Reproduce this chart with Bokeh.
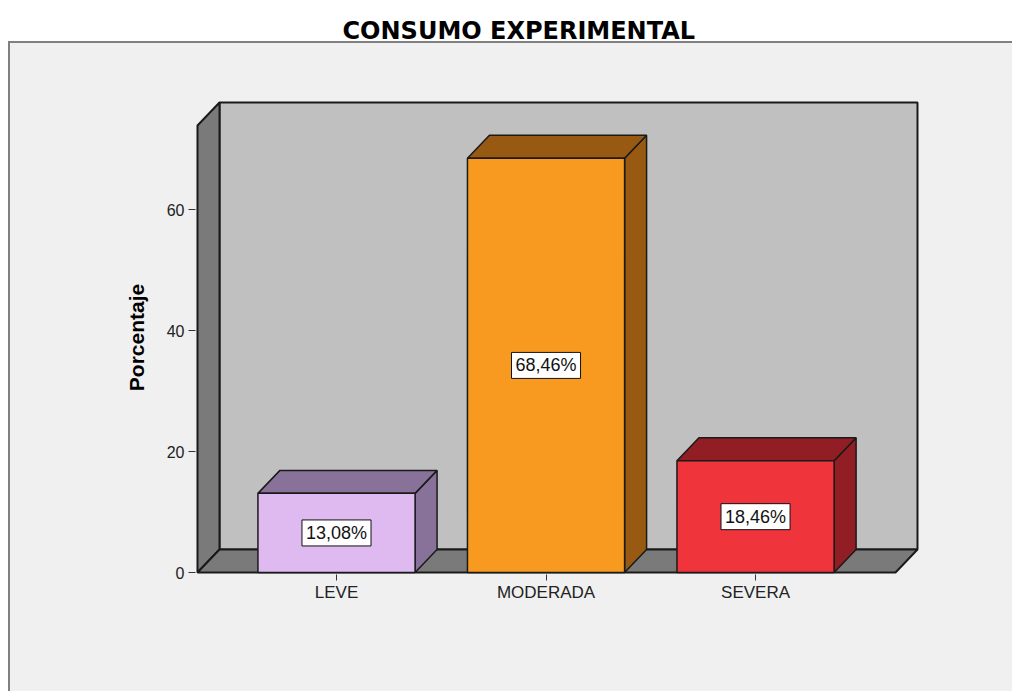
from bokeh.plotting import figure
from bokeh.models import FixedTicker, Range1d, Title
from bokeh.embed import file_html
from bokeh.resources import INLINE
from bokeh.core.properties import value

# ---- data ----
categories = ["LEVE", "MODERADA", "SEVERA"]
percentages = [13.08, 68.46, 18.46]
y_ticks = [0, 20, 40, 60]
title_text = "CONSUMO EXPERIMENTAL"
y_label = "Porcentaje"

# ---- style ----
face_colors = ["#DEBAF1", "#F89A1F", "#EF343C"]
shade_colors = ["#88729A", "#985A12", "#911E24"]
wall_color = "#C0C0C0"
side_color = "#7A7A7A"
edge_color = "#1A1A1A"
bg_color = "#F0F0F0"
frame_line = "#808080"

W, H = 1012, 691
FL, FR, FT, FB = 195, 919, 100, 574     # frame edges (px)

X0, X1 = -0.673, 2.7826                 # x range
Y0, Y1 = -0.33, 78.02                   # y range
XL, XR = -0.6635, 2.668                 # front floor edges
DX, DY = 0.105, 3.80                    # 3D depth offset
ZTOP = 73.89                            # front top of side wall
HW = 0.375                              # bar half width

xs = list(range(len(categories)))

p = figure(width=W, height=H, output_backend="svg", toolbar_location=None,
           x_range=Range1d(X0, X1), y_range=Range1d(Y0, Y1),
           min_border_left=FL, min_border_right=W - FR,
           min_border_top=FT, min_border_bottom=H - FB,
           background_fill_alpha=0, border_fill_alpha=0)
p.outline_line_color = None
p.grid.visible = False

# page look: white band on top, grey frame line, light grey panel
p.styles = {
    "background-image": (
        "linear-gradient(to right, #ffffff 0px, #ffffff 8px, %s 8px, %s 10.5px, rgba(0,0,0,0) 10.5px), "
        "linear-gradient(to bottom, #ffffff 0px, #ffffff 40.5px, %s 40.5px, %s 43px, %s 43px)"
        % (frame_line, frame_line, frame_line, frame_line, bg_color)
    ),
    "background-position": "0px 40.5px, 0px 0px",
    "background-size": "100% 100%, 100% 100%",
    "background-repeat": "no-repeat",
}

# spacer (nearest the frame, invisible) then the real title above it
p.title.text = ""
p.add_layout(Title(text=".", text_font_size="2px", standoff=48,
                   text_color=bg_color, text_alpha=1.0), "above")
p.add_layout(Title(text=title_text, align="left", offset=342 - FL, standoff=10,
                   text_font="DejaVu Sans", text_font_style="bold",
                   text_font_size="24px", text_color="black"), "above")

# walls
top = ZTOP + DY
p.patch([XL + DX, XR + DX, XR + DX, XL + DX], [DY, DY, top, top],
        fill_color=wall_color, line_color=edge_color, line_width=2)
p.patch([XL, XL + DX, XL + DX, XL], [0, DY, top, ZTOP],
        fill_color=side_color, line_color=edge_color, line_width=2)
p.patch([XL, XR, XR + DX, XL + DX], [0, 0, DY, DY],
        fill_color=side_color, line_color=edge_color, line_width=2)

# bars (side, top, front)
side_xs, side_ys, top_xs, top_ys = [], [], [], []
for x, v in zip(xs, percentages):
    side_xs.append([x + HW, x + HW + DX, x + HW + DX, x + HW])
    side_ys.append([0, DY, v + DY, v])
    top_xs.append([x - HW, x + HW, x + HW + DX, x - HW + DX])
    top_ys.append([v, v, v + DY, v + DY])
p.patches(side_xs, side_ys, fill_color=shade_colors, line_color=edge_color, line_width=1.5)
p.patches(top_xs, top_ys, fill_color=shade_colors, line_color=edge_color, line_width=1.5)
p.quad(left=[x - HW for x in xs], right=[x + HW for x in xs],
       bottom=[0] * len(xs), top=percentages,
       fill_color=face_colors, line_color=edge_color, line_width=1.5)

# value labels
labels = [f"{v:.2f}".replace(".", ",") + "%" for v in percentages]
p.text(x=xs, y=[v / 2 for v in percentages], text=labels,
       text_align="center", text_baseline="middle",
       text_font=value("Liberation Sans"), text_font_size="18px", text_color="#111111",
       background_fill_color="white", border_line_color="#111111", border_line_width=1,
       padding=dict(left=4, right=4, top=3, bottom=3))

# axes
p.yaxis.ticker = FixedTicker(ticks=y_ticks)
p.yaxis.axis_line_color = None
p.yaxis.major_tick_in = 0
p.yaxis.major_tick_out = 7
p.yaxis.minor_tick_out = 0
p.yaxis.minor_tick_in = 0
p.yaxis.major_tick_line_color = "#333333"
p.yaxis.major_label_text_font = "Liberation Sans"
p.yaxis.major_label_text_font_size = "16px"
p.yaxis.major_label_text_color = "#222222"
p.yaxis.major_label_standoff = 4
p.yaxis.axis_label = y_label
p.yaxis.axis_label_text_font = "Liberation Sans"
p.yaxis.axis_label_text_font_style = "bold"
p.yaxis.axis_label_text_font_size = "21px"
p.yaxis.axis_label_text_color = "black"
p.yaxis.axis_label_standoff = 16

p.xaxis.ticker = FixedTicker(ticks=xs)
p.xaxis.major_label_overrides = {i: c for i, c in zip(xs, categories)}
p.xaxis.axis_line_color = None
p.xaxis.major_tick_in = 0
p.xaxis.major_tick_out = 6
p.xaxis.minor_tick_out = 0
p.xaxis.minor_tick_in = 0
p.xaxis.major_tick_line_color = "#333333"
p.xaxis.major_label_text_font = "Liberation Sans"
p.xaxis.major_label_text_font_size = "17px"
p.xaxis.major_label_text_color = "#222222"
p.xaxis.major_label_standoff = 2

open("out.html", "w").write(file_html(p, INLINE))
